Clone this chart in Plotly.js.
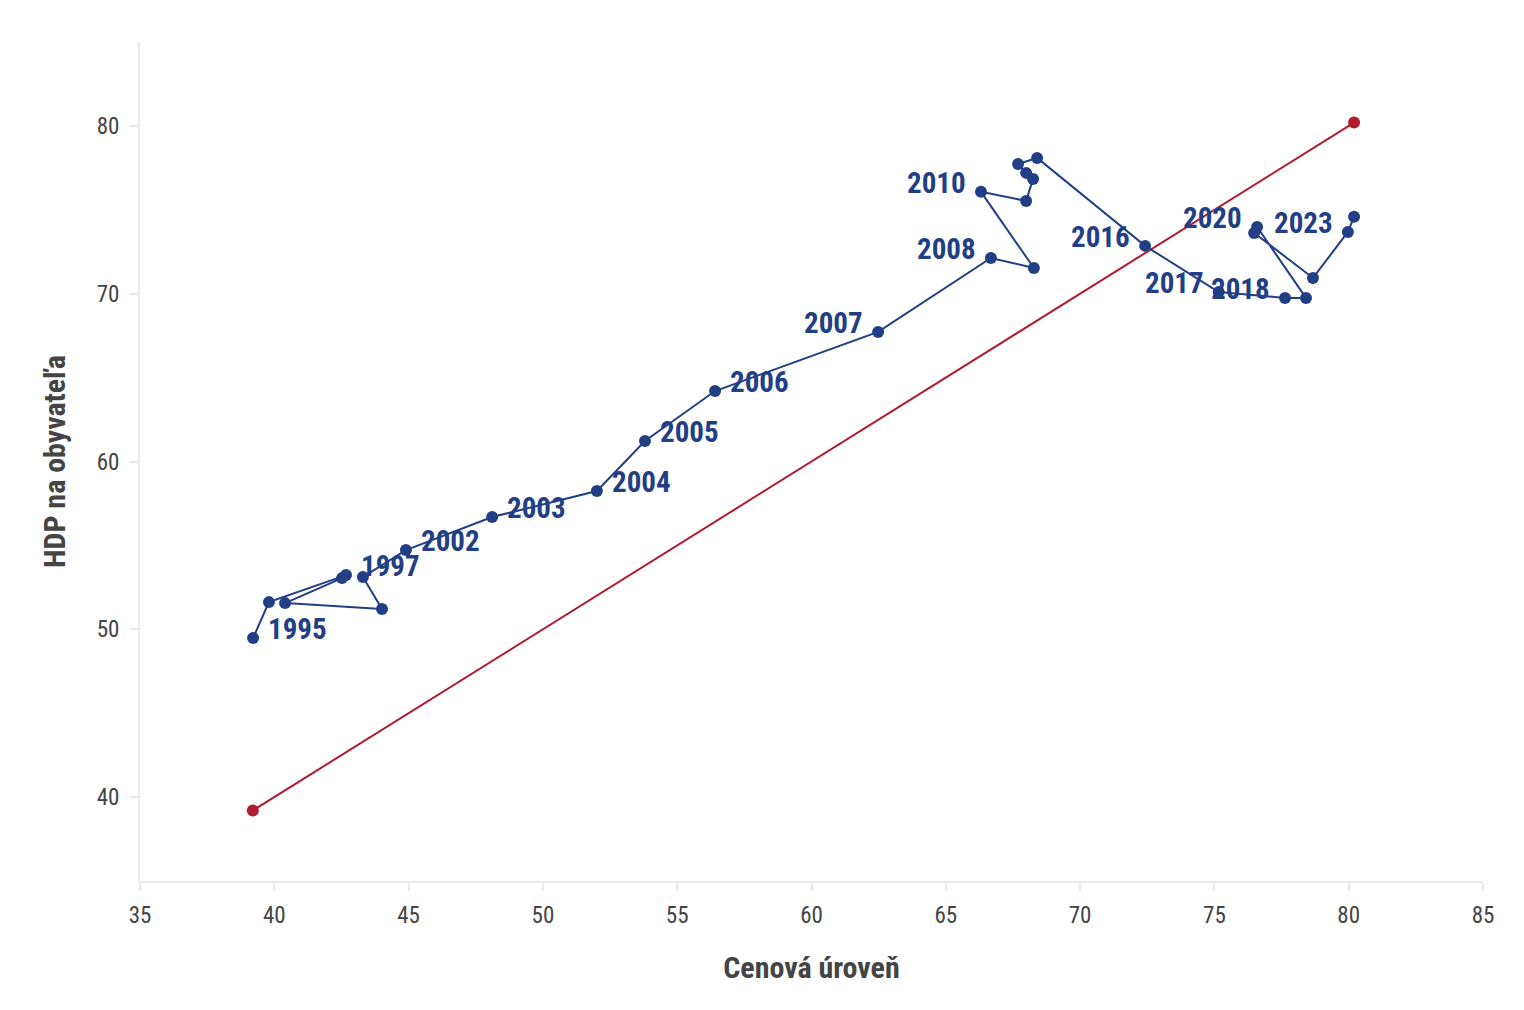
<!DOCTYPE html>
<html>
<head>
<meta charset="utf-8">
<script src="https://cdn.plot.ly/plotly-3.0.1.min.js"></script>
<style>html,body{margin:0;padding:0;background:#fff;}#chart{width:1524px;height:1010px;}</style>
</head>
<body>
<div id="chart"></div>
<script>
// Data
const years = [1995,1996,1997,1998,1999,2000,2001,2002,2003,2004,2005,2006,2007,2008,2009,2010,2011,2012,2013,2014,2015,2016,2017,2018,2019,2020,2021,2022,2023,2024];
const priceLevel = [39.21,39.80,42.67,42.52,40.40,44.01,43.30,44.90,48.11,52.01,53.80,56.41,62.48,66.68,68.28,66.31,67.99,68.25,67.99,67.69,68.40,72.42,75.16,77.63,78.41,76.59,76.48,78.67,79.97,80.20];
const gdpPerCapita = [49.48,51.62,53.23,53.05,51.56,51.21,53.11,54.72,56.69,58.24,61.22,64.20,67.72,72.13,71.53,76.07,75.53,76.84,77.20,77.73,78.09,72.85,70.10,69.75,69.75,73.98,73.62,70.94,73.68,74.58];
const labelledYears = [1995,1997,2002,2003,2004,2005,2006,2007,2008,2010,2016,2017,2018,2020,2023];
const leftLabelYears = [2007,2008,2010,2016,2017,2018,2020,2023];
const diagX = [39.2, 80.2];
const diagY = [39.2, 80.2];

const BLUE = '#223f85';
const RED = '#b01c2e';
const FONT = '"Roboto Condensed","Liberation Sans Narrow","DejaVu Sans Condensed",Roboto,sans-serif';

const traces = [
  {
    x: diagX, y: diagY, type: 'scatter', mode: 'lines+markers',
    line: {color: RED, width: 2}, marker: {color: RED, size: 12},
    hoverinfo: 'skip', showlegend: false
  },
  {
    x: priceLevel, y: gdpPerCapita, type: 'scatter', mode: 'lines+markers',
    line: {color: BLUE, width: 2}, marker: {color: BLUE, size: 12},
    text: years.map(String), hoverinfo: 'text', showlegend: false
  }
];

const annotations = labelledYears.map(yr => {
  const i = years.indexOf(yr);
  const left = leftLabelYears.includes(yr);
  return {
    x: priceLevel[i], y: gdpPerCapita[i], xref: 'x', yref: 'y',
    text: String(yr), showarrow: false,
    xanchor: left ? 'right' : 'left', yanchor: 'middle',
    xshift: left ? -13 : 13, yshift: 9,
    font: {family: FONT, size: 29, color: BLUE, weight: 700}
  };
});

const layout = {
  width: 1524, height: 1010,
  margin: {l: 140, r: 41, t: 42, b: 129},
  paper_bgcolor: '#fff', plot_bgcolor: '#fff',
  font: {family: FONT, color: '#444'},
  xaxis: {
    range: [35, 85], dtick: 5, tick0: 35,
    showgrid: false, zeroline: false,
    showline: true, linecolor: '#ebebeb', linewidth: 2,
    ticks: 'outside', ticklen: 8, tickcolor: '#ebebeb', tickwidth: 2,
    ticklabelstandoff: 4,
    tickfont: {family: FONT, size: 23, color: '#444'},
    title: {text: 'Cenová úroveň', font: {family: FONT, size: 30, color: '#444', weight: 700}, standoff: 29}
  },
  yaxis: {
    range: [35, 85], dtick: 10, tick0: 0,
    showgrid: false, zeroline: false,
    showline: true, linecolor: '#ebebeb', linewidth: 2,
    ticks: 'outside', ticklen: 8, tickcolor: '#ebebeb', tickwidth: 2,
    ticklabelstandoff: 6,
    tickfont: {family: FONT, size: 23, color: '#444'},
    title: {text: 'HDP na obyvateľa', font: {family: FONT, size: 30, color: '#444', weight: 700}, standoff: 22}
  },
  annotations: annotations
};

Plotly.newPlot('chart', traces, layout, {displayModeBar: false, staticPlot: true});
</script>
</body>
</html>
